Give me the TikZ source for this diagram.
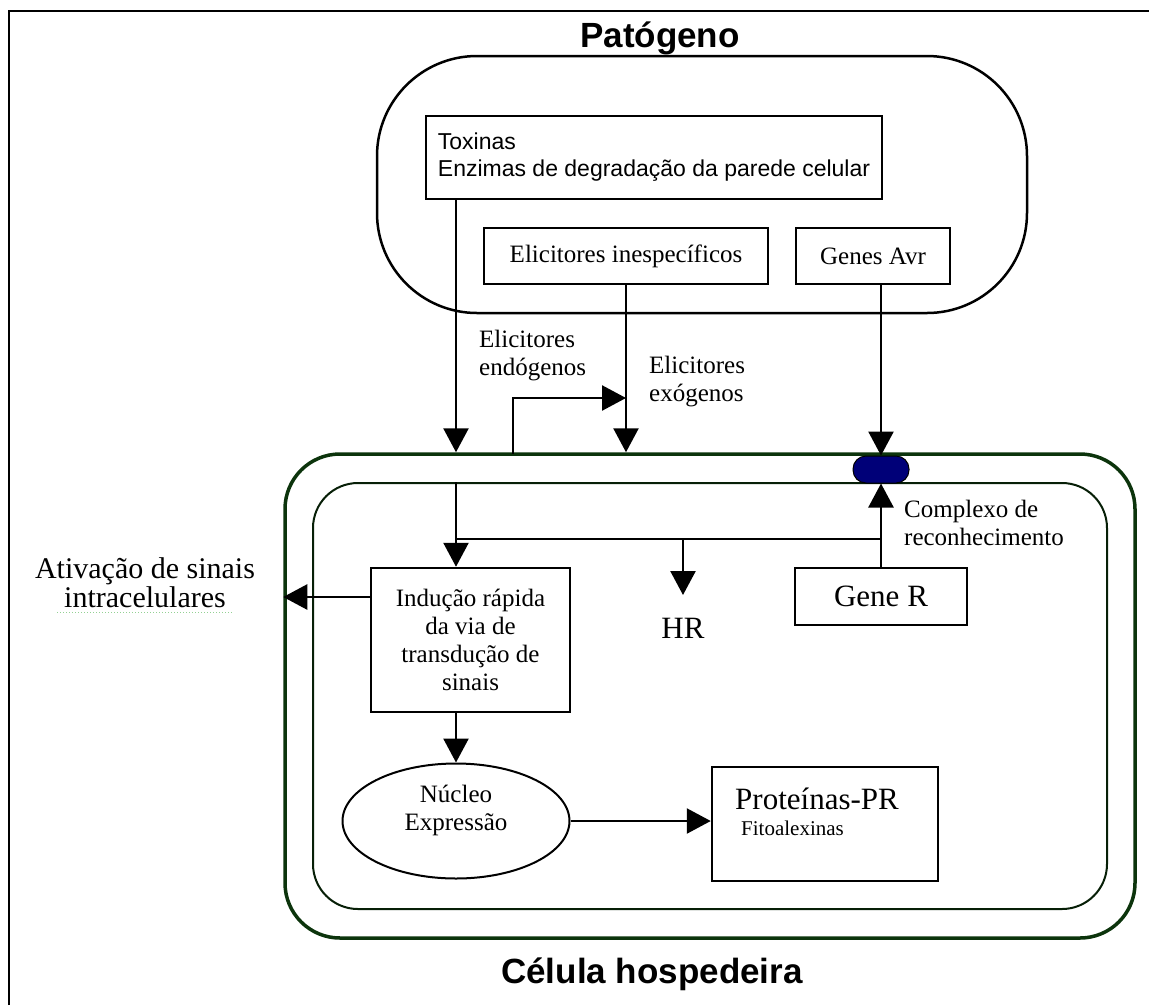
\documentclass[tikz,border=0pt]{standalone}
\usepackage{fontspec}
\setmainfont{Liberation Serif}
\newfontfamily\arialfont{Liberation Sans}
\usetikzlibrary{arrows.meta,shapes.geometric}
\definecolor{cellgreen}{RGB}{12,52,12}
\definecolor{recblue}{RGB}{0,0,120}
\tikzset{
  box/.style={draw, line width=2.5pt, inner sep=0pt},
  arr/.style={line width=2.5pt, -{Triangle[length=24pt,width=25pt]}},
  lbl/.style={font=\fontsize{25}{28}\selectfont, align=left, inner sep=0pt},
  big/.style={font=\fontsize{31}{34}\selectfont, inner sep=0pt},
  title/.style={font=\arialfont\bfseries\fontsize{35}{40}\selectfont, inner sep=0pt},
}
\begin{document}
\begin{tikzpicture}[x=1pt,y=-1pt]
\useasboundingbox (0,0) rectangle (1149,1005);
% moldura
\draw[line width=2.5pt] (9,1005) -- (9,11) -- (1149,11);

% patogeno
\node[title, anchor=base] (tpat) at (660,47) {Patógeno};
\node[draw, line width=2.5pt, rounded corners=100, minimum width=650, minimum height=257] (pat) at (702,184.5) {};
\node[box, minimum width=456, minimum height=83, align=left,
  font=\arialfont\fontsize{23}{27}\selectfont] (tox) at (654,157.5)
  {Toxinas\\Enzimas de degradação da parede celular};
\node[box, lbl, align=center, minimum width=284, minimum height=56] (elin) at (626,256) {Elicitores inespecíficos};
\node[box, lbl, align=center, minimum width=154, minimum height=56] (avr) at (873,256) {Genes Avr};

% celula
\node[draw=cellgreen, line width=3.5pt, rounded corners=55, minimum width=850, minimum height=484] (cell) at (710,696) {};
\node[draw=cellgreen!60!black, line width=2pt, rounded corners=45, minimum width=794, minimum height=426] (cyto) at (710,696) {};
\node[draw, fill=recblue, line width=1pt, rounded corners=13, minimum width=56, minimum height=27] (rec) at (881,469.5) {};

\node[box, lbl, align=center, minimum width=199, minimum height=144] (induc) at (470.5,640)
  {Indução rápida\\da via de\\transdução de\\sinais};
\node[draw, ellipse, line width=2pt, minimum width=227, minimum height=115, inner sep=0pt] (nucleo) at (456,821) {};
\node[lbl, align=center, anchor=base] (nuctxt) at (456,830) {Núcleo\\Expressão};
\node[box, minimum width=226, minimum height=114] (prot) at (825,824) {};
\node[big, anchor=base west] (prottxt) at (735,809) {Proteínas-PR};
\node[anchor=base west, inner sep=0pt, font=\fontsize{21}{24}\selectfont] (fito) at (741,835) {Fitoalexinas};
\node[box, big, minimum width=172, minimum height=57] (gener) at (881,596.5) {Gene R};
\node[big, anchor=base] (hr) at (683,638) {HR};

% rotulos
\node[anchor=base, align=center, inner sep=0pt, font=\fontsize{30}{25}\selectfont] (ativ) at (145,607)
  {Ativação de sinais\\intracelulares};
\draw[dotted, line width=1pt, green!40!gray!60] (57,612) -- (232,612);
\node[lbl, anchor=base west] (compl) at (904,545) {Complexo de\\reconhecimento};
\node[lbl, anchor=base west] (endo) at (479,375) {Elicitores\\endógenos};
\node[lbl, anchor=base west] (exo) at (649,401) {Elicitores\\exógenos};
\node[title, anchor=base] (tcel) at (652,983) {Célula hospedeira};

% setas
\coordinate (endo0) at (513,454);
\coordinate (exo0) at (626,398);
\coordinate (ramo) at (456,539);
\coordinate (hr0) at (683,539);
\coordinate (hr1) at (683,595);
\coordinate (sig) at (371,597);
\draw[arr] (tox.south -| nucleo.center) -- (cell.north -| nucleo.center);
\draw[arr] (elin.south) -- (elin.south |- cell.north);
\draw[arr] (avr.south -| rec.north) -- (rec.north);
\draw[arr] (endo0) |- (exo0);
\draw[arr] (cyto.north -| nucleo.center) -- (induc.north -| nucleo.center);
\draw[line width=2.5pt] (ramo) -- (ramo -| rec.south);
\draw[arr] (gener.north) -- (rec.south);
\draw[arr] (hr0) -- (hr1);
\draw[arr] (sig) -- (sig -| cell.west);
\draw[arr] (induc.south -| nucleo.north) -- (nucleo.north);
\draw[arr] (nucleo.east) -- (nucleo.east -| prot.west);
\end{tikzpicture}
\end{document}
